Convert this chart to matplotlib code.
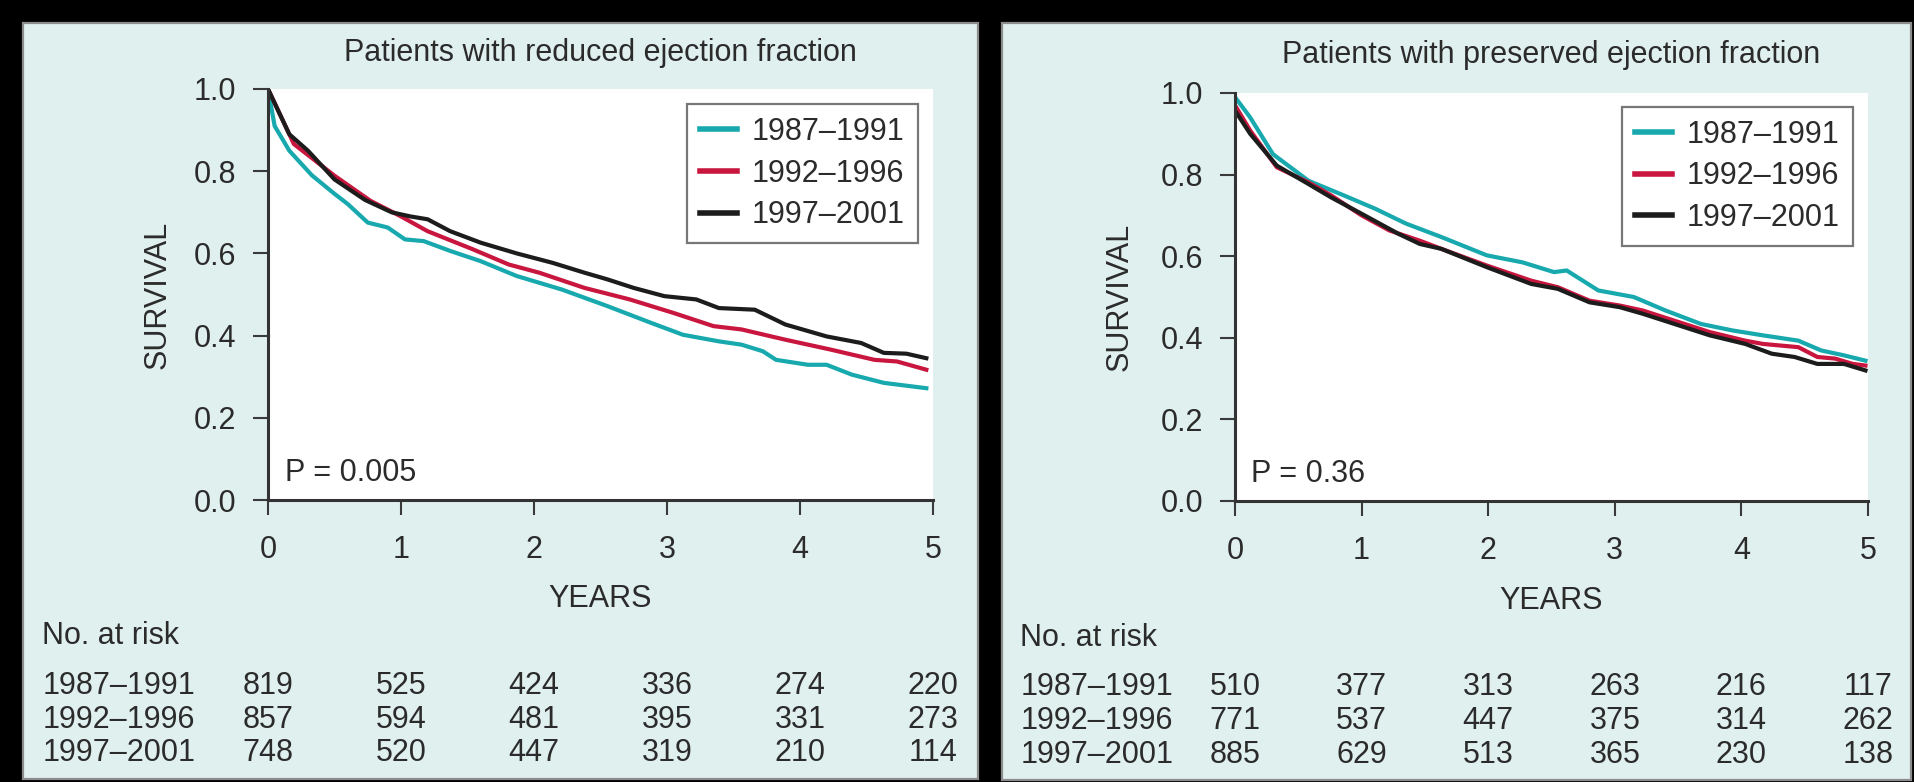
import matplotlib
matplotlib.use("Agg")
import matplotlib.pyplot as plt
from matplotlib.patches import Rectangle
from matplotlib.transforms import blended_transform_factory

plt.rcParams["font.family"] = ["Liberation Sans", "DejaVu Sans"]

# ---------------- data ----------------
periods = ["1987\u20131991", "1992\u20131996", "1997\u20132001"]
colors = ["#17a9ae", "#c8163f", "#1c1c1c"]
year_ticks = [0, 1, 2, 3, 4, 5]
surv_ticks = [0.0, 0.2, 0.4, 0.6, 0.8, 1.0]

# reduced ejection fraction
red_t_8791 = [0, 0.05, 0.16, 0.33, 0.5, 0.6, 0.75, 0.9, 1.03, 1.17, 1.37, 1.6, 1.87, 2.21,
              2.55, 2.88, 3.12, 3.39, 3.56, 3.72, 3.82, 4.06, 4.2, 4.39, 4.63, 4.95]
red_s_8791 = [1.0, 0.91, 0.85, 0.79, 0.745, 0.72, 0.675, 0.663, 0.634, 0.63, 0.606, 0.581, 0.545, 0.512,
              0.472, 0.431, 0.402, 0.386, 0.378, 0.362, 0.341, 0.329, 0.329, 0.305, 0.285, 0.272]
red_t_9296 = [0, 0.195, 0.5, 0.77, 1.0, 1.2, 1.54, 1.81, 2.04, 2.38, 2.72, 3.05, 3.35, 3.56,
              3.89, 4.23, 4.56, 4.73, 4.95]
red_s_9296 = [1.0, 0.866, 0.789, 0.728, 0.69, 0.654, 0.61, 0.573, 0.553, 0.516, 0.488, 0.455, 0.423, 0.415,
              0.39, 0.366, 0.341, 0.337, 0.317]
red_t_9701 = [0, 0.16, 0.3, 0.5, 0.73, 0.93, 1.07, 1.2, 1.37, 1.6, 1.87, 2.14, 2.38, 2.55, 2.75,
              2.98, 3.22, 3.39, 3.66, 3.89, 4.2, 4.46, 4.63, 4.8, 4.95]
red_s_9701 = [1.0, 0.89, 0.85, 0.78, 0.73, 0.70, 0.69, 0.683, 0.654, 0.626, 0.60, 0.577, 0.553, 0.537, 0.516,
              0.496, 0.488, 0.467, 0.463, 0.427, 0.398, 0.382, 0.358, 0.356, 0.345]

# preserved ejection fraction
pres_t_8791 = [0, 0.12, 0.3, 0.58, 0.86, 1.11, 1.35, 1.63, 1.99, 2.27, 2.52, 2.62, 2.87, 3.15,
               3.4, 3.68, 3.93, 4.17, 4.45, 4.63, 4.81, 4.98]
pres_s_8791 = [0.99, 0.94, 0.85, 0.785, 0.749, 0.716, 0.68, 0.647, 0.602, 0.585, 0.561, 0.565, 0.516, 0.5,
               0.467, 0.434, 0.418, 0.406, 0.393, 0.369, 0.357, 0.344]
pres_t_9296 = [0, 0.12, 0.33, 0.58, 0.76, 1.0, 1.22, 1.46, 1.63, 1.99, 2.34, 2.55, 2.8, 3.04,
               3.22, 3.47, 3.75, 4.03, 4.17, 4.31, 4.45, 4.6, 4.74, 4.88, 4.98]
pres_s_9296 = [0.97, 0.908, 0.818, 0.781, 0.749, 0.70, 0.663, 0.638, 0.618, 0.577, 0.54, 0.524, 0.491, 0.479,
               0.467, 0.442, 0.414, 0.393, 0.385, 0.381, 0.377, 0.353, 0.349, 0.336, 0.332]
pres_t_9701 = [0, 0.12, 0.33, 0.58, 0.76, 1.0, 1.29, 1.46, 1.63, 1.99, 2.34, 2.55, 2.8, 3.04,
               3.22, 3.47, 3.75, 4.03, 4.24, 4.42, 4.6, 4.81, 4.98]
pres_s_9701 = [0.957, 0.90, 0.822, 0.777, 0.744, 0.704, 0.655, 0.63, 0.618, 0.573, 0.532, 0.52, 0.487, 0.475,
               0.459, 0.434, 0.406, 0.385, 0.361, 0.353, 0.336, 0.336, 0.32]

red_at_risk = [[819, 525, 424, 336, 274, 220],
               [857, 594, 481, 395, 331, 273],
               [748, 520, 447, 319, 210, 114]]
pres_at_risk = [[510, 377, 313, 263, 216, 117],
                [771, 537, 447, 375, 314, 262],
                [885, 629, 513, 365, 230, 138]]

W, H = 1914, 782
TXT = "#2b2b2b"
FS = 22


def fx(px):
    return px / W


def fy(py):
    return 1 - py / H


fig = plt.figure(figsize=(W / 100, H / 100), dpi=100, facecolor="black")

panels = [
    {
        "box": (23, 23, 978, 779),
        "ax": (268, 89, 933, 500),
        "title": "Patients with reduced ejection fraction",
        "title_y": 53,
        "ylab_x": 158,
        "years_y": 599,
        "risk_x": 42,
        "risk_y": 636,
        "rows_y": [686, 720, 753],
        "p": "P = 0.005",
        "leg": (0.977, 0.963),
        "curves": [(red_t_8791, red_s_8791), (red_t_9296, red_s_9296), (red_t_9701, red_s_9701)],
        "risk": red_at_risk,
    },
    {
        "box": (1002, 23, 1911, 780),
        "ax": (1235, 93, 1868, 501),
        "title": "Patients with preserved ejection fraction",
        "title_y": 55,
        "ylab_x": 1120,
        "years_y": 601,
        "risk_x": 1020,
        "risk_y": 638,
        "rows_y": [687, 721, 755],
        "p": "P = 0.36",
        "leg": (0.976, 0.966),
        "curves": [(pres_t_8791, pres_s_8791), (pres_t_9296, pres_s_9296), (pres_t_9701, pres_s_9701)],
        "risk": pres_at_risk,
    },
]

for pn in panels:
    bx0, by0, bx1, by1 = pn["box"]
    fig.patches.append(Rectangle((fx(bx0), fy(by1)), fx(bx1 - bx0), (by1 - by0) / H,
                                 transform=fig.transFigure, facecolor="#e0f0ee",
                                 edgecolor="#8c8c8c", linewidth=1.6, zorder=-5))

    ax0, ay0, ax1, ay1 = pn["ax"]
    ax = fig.add_axes([fx(ax0), fy(ay1), fx(ax1 - ax0), (ay1 - ay0) / H], zorder=2)
    ax.set_facecolor("white")

    for (t, s), lab, c in zip(pn["curves"], periods, colors):
        ax.plot(t, s, color=c, linewidth=3.0, label=lab, solid_joinstyle="round")

    ax.set_xlim(0, 5)
    ax.set_ylim(0, 1)
    ax.set_xticks(year_ticks)
    ax.set_yticks(surv_ticks)
    ax.set_yticklabels([f"{v:.1f}" for v in surv_ticks])
    ax.tick_params(axis="both", direction="out", length=11, width=1.5,
                   colors="#3a3a3a", labelcolor=TXT, labelsize=FS)
    ax.tick_params(axis="x", pad=14)
    ax.tick_params(axis="y", pad=12)
    for side in ["top", "right"]:
        ax.spines[side].set_visible(False)
    for side in ["left", "bottom"]:
        ax.spines[side].set_color("#333333")
        ax.spines[side].set_linewidth(2.2)

    ax.text(0.13, 0.066, pn["p"], fontsize=FS, color=TXT, va="center", ha="left")

    leg = ax.legend(loc="upper right", bbox_to_anchor=pn["leg"], borderaxespad=0,
                    fontsize=FS, frameon=True, fancybox=False, handlelength=1.2,
                    handletextpad=0.5, labelspacing=0.38, borderpad=0.42)
    leg.get_frame().set_edgecolor("#555555")
    leg.get_frame().set_linewidth(1.6)
    for txt in leg.get_texts():
        txt.set_color(TXT)
    for ln in leg.get_lines():
        ln.set_linewidth(4)

    cx = (ax0 + ax1) / 2
    fig.text(fx(cx), fy(pn["title_y"]), pn["title"], fontsize=FS, color=TXT,
             ha="center", va="center")
    fig.text(fx(pn["ylab_x"]), fy((ay0 + ay1) / 2), "SURVIVAL", fontsize=FS, color=TXT,
             ha="center", va="center", rotation=90)
    fig.text(fx(cx), fy(pn["years_y"]), "YEARS", fontsize=FS, color=TXT,
             ha="center", va="center")
    fig.text(fx(pn["risk_x"]), fy(pn["risk_y"]), "No. at risk", fontsize=FS, color=TXT,
             ha="left", va="center")

    trans = blended_transform_factory(ax.transData, fig.transFigure)
    for lab, row, ry in zip(periods, pn["risk"], pn["rows_y"]):
        fig.text(fx(pn["risk_x"] + 1), fy(ry), lab, fontsize=FS, color=TXT,
                 ha="left", va="center")
        for xv, n in zip(year_ticks, row):
            ax.text(xv, fy(ry), str(n), transform=trans, fontsize=FS, color=TXT,
                    ha="center", va="center", clip_on=False)

fig.savefig("out.png", dpi=100, facecolor="black")
